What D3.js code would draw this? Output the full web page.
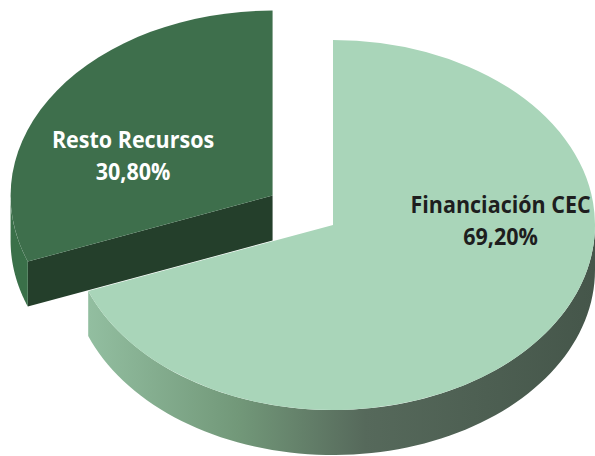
<!DOCTYPE html>
<html>
<head>
<meta charset="utf-8">
<script src="https://cdn.jsdelivr.net/npm/d3@7"></script>
<style>
  body { margin: 0; background: #fff; }
  text { font-family: "Open Sans", sans-serif; font-weight: bold; }
</style>
</head>
<body>
<svg width="595" height="456"></svg>
<script>
// data
const categories = ["Financiación CEC", "Resto Recursos"];
const values = [69.2, 30.8];
const valueLabels = ["69,20%", "30,80%"];

const svg = d3.select("svg");
const width = +svg.attr("width");
const height = +svg.attr("height");

// 3d pie layout
const cx = 333, cy = 225;
const rx = 262, ry = 185;
const depth = 45;
const explode = [0, 0.28]; // only the small slice is pulled out

const topColor = ["#a9d5b9", "#3e6f4c"];
const cutColor = ["#5d7a64", "#243f2b"];
const textColor = ["#1e1e1e", "#ffffff"];
// where the label sits inside each slice: angle (deg) and fraction of radius
const labelAt = [[92, 0.64], [288, 0.56]];

const pie = d3.pie().sort(null).value((d) => d.value);
const arcs = pie(categories.map((c, i) => ({ name: c, value: values[i], label: valueLabels[i], i })));

const ellipsePt = (ox, oy, a, f = 1) => [ox + rx * f * Math.sin(a), oy - ry * f * Math.cos(a)];

// gradient for the big rim
const defs = svg.append("defs");
const grad = defs.append("linearGradient").attr("id", "rimGrad")
  .attr("gradientUnits", "userSpaceOnUse")
  .attr("x1", 85).attr("x2", 595).attr("y1", 0).attr("y2", 0);
[["0", "#93bfa1"], ["0.3", "#729879"], ["0.55", "#56695b"], ["1", "#45564a"]]
  .forEach(([o, c]) => grad.append("stop").attr("offset", o).attr("stop-color", c));

const topArc = d3.arc().innerRadius(0).outerRadius(rx);

// draw small (back) slice first, then the big one over it
const order = [1, 0];
order.forEach((k) => {
  const d = arcs[k];
  const mid = (d.startAngle + d.endAngle) / 2;
  const [ccx, ccy] = ellipsePt(cx, cy, mid, explode[k]);
  const g = svg.append("g");

  // cut face at start angle if it faces the viewer
  const a0 = d.startAngle;
  if (Math.cos(a0) < 0 && Math.sin(a0) < 0 && d.startAngle > 0) {
    const p = ellipsePt(ccx, ccy, a0);
    g.append("path")
      .attr("d", d3.line()([[ccx, ccy], p, [p[0], p[1] + depth], [ccx, ccy + depth]]) + "Z")
      .attr("fill", cutColor[k]);
  }

  // outer rim, visible between 90 and 270 degrees
  const s = Math.max(d.startAngle, Math.PI / 2);
  const e = Math.min(d.endAngle, 3 * Math.PI / 2);
  if (e > s) {
    const n = 80;
    const angs = d3.range(n + 1).map((j) => s + (e - s) * j / n);
    const topPts = angs.map((a) => ellipsePt(ccx, ccy, a));
    const botPts = angs.slice().reverse().map((a) => {
      const p = ellipsePt(ccx, ccy, a);
      return [p[0], p[1] + depth];
    });
    g.append("path")
      .attr("d", d3.line()(topPts.concat(botPts)) + "Z")
      .attr("fill", k === 0 ? "url(#rimGrad)" : "#3a7049");
  }

  // top face
  g.append("path")
    .attr("transform", `translate(${ccx},${ccy}) scale(1,${ry / rx})`)
    .attr("d", topArc(d))
    .attr("fill", topColor[k]);

  // label, two lines
  const [la, lf] = labelAt[k];
  const [lx, ly] = ellipsePt(ccx, ccy, la * Math.PI / 180, lf);
  [[d.data.name, -16], [d.data.label, 16]].forEach(([txt, off]) => {
    svg.append("text")
      .attr("transform", `translate(${lx},${ly + off}) scale(1,1.08)`)
      .attr("text-anchor", "middle")
      .attr("font-size", 21.5)
      .attr("fill", textColor[k])
      .text(txt);
  });
});
</script>
</body>
</html>
